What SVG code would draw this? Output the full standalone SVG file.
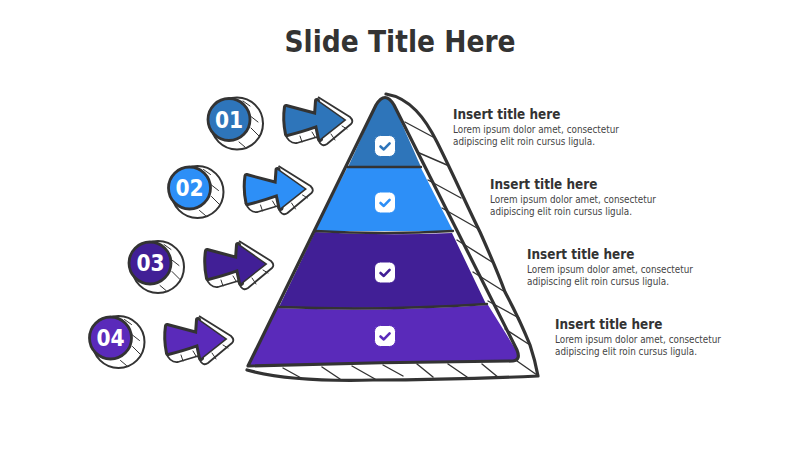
<svg xmlns="http://www.w3.org/2000/svg" width="800" height="450" viewBox="0 0 800 450">
<style>
text{font-family:"DejaVu Sans Condensed","DejaVu Sans",sans-serif;font-stretch:condensed;fill:#333}
.title{font-size:29.5px;font-weight:700;text-anchor:middle}
.h{font-size:13.4px;font-weight:700}
.b{font-size:9.8px;fill:#444}
.n{font-size:22.5px;font-weight:700;fill:#fff;text-anchor:middle}
.ln{fill:none;stroke:#333;stroke-width:3.2;stroke-linejoin:round;stroke-linecap:round}
.th{fill:none;stroke:#333;stroke-width:1.4;stroke-linecap:round}
.th2{fill:none;stroke:#333;stroke-width:1;stroke-linecap:round}
.mid{fill:none;stroke:#333;stroke-width:2.4;stroke-linecap:round}
.front{stroke:none}
.fo{fill:none;stroke:#333;stroke-width:6;stroke-linejoin:round;stroke-linecap:round}
.fs{fill:none;stroke:#333;stroke-width:3;stroke-linecap:round}
.chk{fill:none;stroke-width:2.6;stroke-linecap:round;stroke-linejoin:round}
</style>
<defs>
<g id="arrowBack">
<path d="M318 97L350 117Q354 121 351 124L327 144Q323 147 320 143L317 137L297 143Q289 144 285 134" fill="#fff" stroke="#333" stroke-width="1.8" stroke-linejoin="round"/>
<path class="th2" d="M300 136L302 142M312 132L315 137M331 134L335 140M342 126L347 129"/>
</g>
<g id="arrowFront">
<path class="fs" d="M317 101L344 120L320 139"/>
<path class="fo" d="M320 139L317 125Q300 131 287 134Q284 120 286 107L316 115L317 101"/>
<path class="front" d="M286 107L316 115L317 101L344 120L320 139L317 125Q300 131 287 134Q284 120 286 107Z"/>
</g>
<g id="disc">
<circle cx="237" cy="123.5" r="26" fill="#fff" stroke="#333" stroke-width="2"/>
<path class="th2" d="M249 115L258 122M251 128L259 136M239 142L245 147M243 101L250 106"/>
</g>
<g id="tick"><rect x="-10.5" y="-10.5" width="21" height="21" rx="6" fill="#fff"/><path class="chk" d="M-4.5 0.5L-1.2 3.4L4.6 -2.6"/></g>
</defs>
<text class="title" x="400" y="52">Slide Title Here</text>
<g id="pyramid">
<path class="ln" d="M386 94C410 98 425 118 437 142C455 178 468 208 480 232C488 250 497 270 505 292Q520 320 530 345Q535 360 538 376Q450 380 373 380Q290 382 247 370" fill="#fff"/>
<path class="th" d="M405 122L433 137M417 152L447 165M428 180L461 198M442 208L477 228M457 240L492 262M473 272L505 292M488 301L519 318M505 329L530 345M517 361L537 375M283 368L303 379M322 367L340 379M352 366L375 379M383 365L403 376M417 364L433 377M448 364L467 377M482 364L499 378"/>
<path fill="#2E75BA" d="M348 167L376 106Q385 90 394 106L421 167Z"/>
<path fill="#2D8FF7" d="M347 168L421 168L453 231L315 231Z"/>
<path fill="#411F96" d="M315 232Q385 236 452 233L486 304Q380 310 279 307Z"/>
<path fill="#5A2ABA" d="M277 308Q380 312 488 305L516 350Q522 360 513 361Q380 362 248 366Z"/>
<path class="mid" d="M348 167L421 167M315 231Q385 235 453 231M279 307Q380 311 487 304"/>
<path class="ln" d="M248 366L376 105Q385 90 394 105L517 350Q521 360 513 361Q380 362 248 366Z"/>
</g>
<g id="node-1"><use href="#disc"/><circle cx="229" cy="119.5" r="21" fill="#2E75BA" stroke="#333" stroke-width="2.8"/><text class="n" x="229" y="127.5">01</text>
<use href="#arrowBack"/><use href="#arrowFront" fill="#2E75BA"/>
<use href="#tick" x="385" y="146" stroke="#2E75BA"/>
<text class="h" x="453" y="119">Insert title here</text><text class="b" x="453" y="133">Lorem ipsum dolor amet, consectetur</text><text class="b" x="453" y="145">adipiscing elit roin cursus ligula.</text></g>
<g id="node-2"><use href="#disc" x="-39.5" y="68.5"/><circle cx="189.5" cy="188" r="21" fill="#2D8FF7" stroke="#333" stroke-width="2.8"/><text class="n" x="189.5" y="196">02</text>
<use href="#arrowBack" x="-39.5" y="69"/><use href="#arrowFront" x="-39.5" y="69" fill="#2D8FF7"/>
<use href="#tick" x="385" y="202.5" stroke="#2D8FF7"/>
<text class="h" x="490" y="189">Insert title here</text><text class="b" x="490" y="203">Lorem ipsum dolor amet, consectetur</text><text class="b" x="490" y="215">adipiscing elit roin cursus ligula.</text></g>
<g id="node-3"><use href="#disc" x="-79" y="143.5"/><circle cx="150" cy="263" r="21" fill="#411F96" stroke="#333" stroke-width="2.8"/><text class="n" x="150.5" y="271">03</text>
<use href="#arrowBack" x="-79" y="144"/><use href="#arrowFront" x="-79" y="144" fill="#411F96"/>
<use href="#tick" x="385" y="272.5" stroke="#411F96"/>
<text class="h" x="527" y="259">Insert title here</text><text class="b" x="527" y="273">Lorem ipsum dolor amet, consectetur</text><text class="b" x="527" y="285">adipiscing elit roin cursus ligula.</text></g>
<g id="node-4"><use href="#disc" x="-118.5" y="218.5"/><circle cx="110.5" cy="338" r="21" fill="#5A2ABA" stroke="#333" stroke-width="2.8"/><text class="n" x="110.5" y="346">04</text>
<use href="#arrowBack" x="-119" y="219"/><use href="#arrowFront" x="-119" y="219" fill="#5A2ABA"/>
<use href="#tick" x="385" y="336" stroke="#5A2ABA"/>
<text class="h" x="555" y="329">Insert title here</text><text class="b" x="555" y="343">Lorem ipsum dolor amet, consectetur</text><text class="b" x="555" y="355">adipiscing elit roin cursus ligula.</text></g>
</svg>
